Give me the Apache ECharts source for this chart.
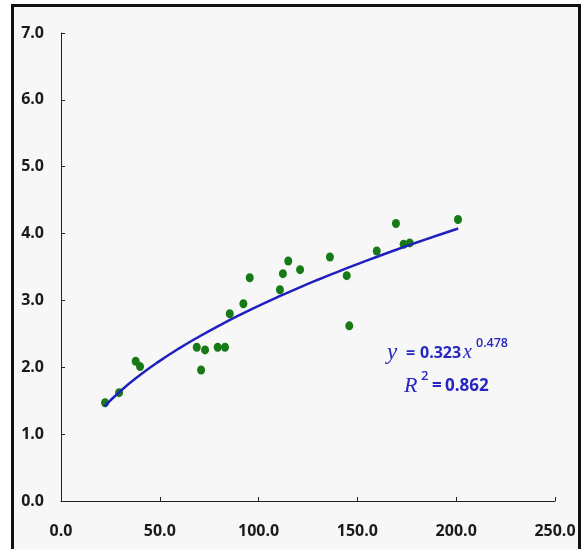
<!DOCTYPE html>
<html>
<head>
<meta charset="utf-8">
<script src="https://cdn.jsdelivr.net/npm/echarts@6/dist/echarts.min.js"></script>
<style>
html,body{margin:0;padding:0;background:#fff;}
#chart{width:584px;height:549px;}
</style>
</head>
<body>
<div id="chart"></div>
<script>
// Observed data points (x, y)
var pointX = [22.3, 29.4, 37.8, 40.0, 68.7, 70.9, 72.9, 79.3, 83.0, 85.4, 92.3, 95.5, 110.8, 112.3, 115.0, 121.0, 136.1, 144.6, 145.9, 159.8, 169.5, 173.4, 176.5, 200.9];
var pointY = [1.47, 1.62, 2.09, 2.01, 2.30, 1.96, 2.26, 2.30, 2.30, 2.80, 2.95, 3.34, 3.16, 3.40, 3.59, 3.46, 3.65, 3.37, 2.62, 3.74, 4.15, 3.84, 3.86, 4.21];
// Power trend line samples (y = 0.323 x^0.478)
var trendX = [22, 30, 40, 50, 60, 70, 80, 90, 100, 110, 120, 130, 140, 150, 160, 170, 180, 190, 201];
var trendY = [1.415, 1.642, 1.884, 2.096, 2.287, 2.461, 2.623, 2.776, 2.919, 3.055, 3.185, 3.309, 3.428, 3.543, 3.654, 3.762, 3.866, 3.967, 4.075];
// Axis ranges and ticks
var xTicks = [0, 50, 100, 150, 200, 250];
var yTicks = [0, 1, 2, 3, 4, 5, 6, 7];

var chart = echarts.init(document.getElementById('chart'), null, {renderer: 'canvas'});
var blue = '#2626c2';
var labelFont = {fontFamily: 'Open Sans', fontWeight: 'bold', fontSize: 16, color: '#1a1a1a'};

function pairs(xs, ys) { return xs.map(function (x, i) { return [x, ys[i]]; }); }

chart.setOption({
  backgroundColor: '#ffffff',
  animation: false,
  grid: {left: 61, top: 33, width: 494, height: 468, containLabel: false},
  xAxis: {
    type: 'value', min: xTicks[0], max: xTicks[xTicks.length - 1], interval: 50,
    axisLine: {show: true, lineStyle: {color: '#222', width: 1}},
    axisTick: {show: true, inside: true, length: 4, lineStyle: {color: '#222'}},
    splitLine: {show: false},
    axisLabel: Object.assign({margin: 22, formatter: function (v) { return v.toFixed(1); }}, labelFont)
  },
  yAxis: {
    type: 'value', min: yTicks[0], max: yTicks[yTicks.length - 1], interval: 1,
    axisLine: {show: true, lineStyle: {color: '#222', width: 1}},
    axisTick: {show: true, inside: true, length: 4, lineStyle: {color: '#222'}},
    splitLine: {show: false},
    axisLabel: Object.assign({margin: 17, formatter: function (v) { return v.toFixed(1); }}, labelFont)
  },
  graphic: [
    {type: 'rect', z: -10, silent: true, shape: {x: 12.5, y: 5.5, width: 567, height: 560},
     style: {fill: '#f7f7f7', stroke: '#111', lineWidth: 3}},
    {type: 'text', z: 100, x: 387, y: 353, style: {text: 'y', font: 'italic 23px "Liberation Serif"', fill: blue, align: 'left', verticalAlign: 'middle'}},
    {type: 'text', z: 100, x: 406, y: 353, style: {text: '=', font: 'bold 16px "Open Sans"', fill: blue, align: 'left', verticalAlign: 'middle'}},
    {type: 'text', z: 100, x: 420, y: 353, style: {text: '0.323', font: 'bold 16px "Open Sans"', fill: blue, align: 'left', verticalAlign: 'middle'}},
    {type: 'text', z: 100, x: 463, y: 353, style: {text: 'x', font: 'italic 20px "Liberation Serif"', fill: blue, align: 'left', verticalAlign: 'middle'}},
    {type: 'text', z: 100, x: 476, y: 343, style: {text: '0.478', font: '600 12.5px "Open Sans"', fill: blue, align: 'left', verticalAlign: 'middle'}},
    {type: 'text', z: 100, x: 404, y: 386, style: {text: 'R', font: 'italic 22px "Liberation Serif"', fill: blue, align: 'left', verticalAlign: 'middle'}},
    {type: 'text', z: 100, x: 421, y: 376, style: {text: '2', font: '600 13px "Open Sans"', fill: blue, align: 'left', verticalAlign: 'middle'}},
    {type: 'text', z: 100, x: 432, y: 386, style: {text: '=', font: 'bold 17px "Open Sans"', fill: blue, align: 'left', verticalAlign: 'middle'}},
    {type: 'text', z: 100, x: 445, y: 386, style: {text: '0.862', font: 'bold 17px "Open Sans"', fill: blue, align: 'left', verticalAlign: 'middle'}}
  ],
  series: [
    {
      type: 'scatter', data: pairs(pointX, pointY), symbol: 'circle', symbolSize: [8, 9],
      itemStyle: {color: '#167a16', opacity: 1}, z: 3
    },
    {
      type: 'line', data: pairs(trendX, trendY), smooth: true, showSymbol: false, symbol: 'none',
      lineStyle: {color: '#2020bf', width: 2.5}, z: 4
    }
  ]
});
</script>
</body>
</html>
